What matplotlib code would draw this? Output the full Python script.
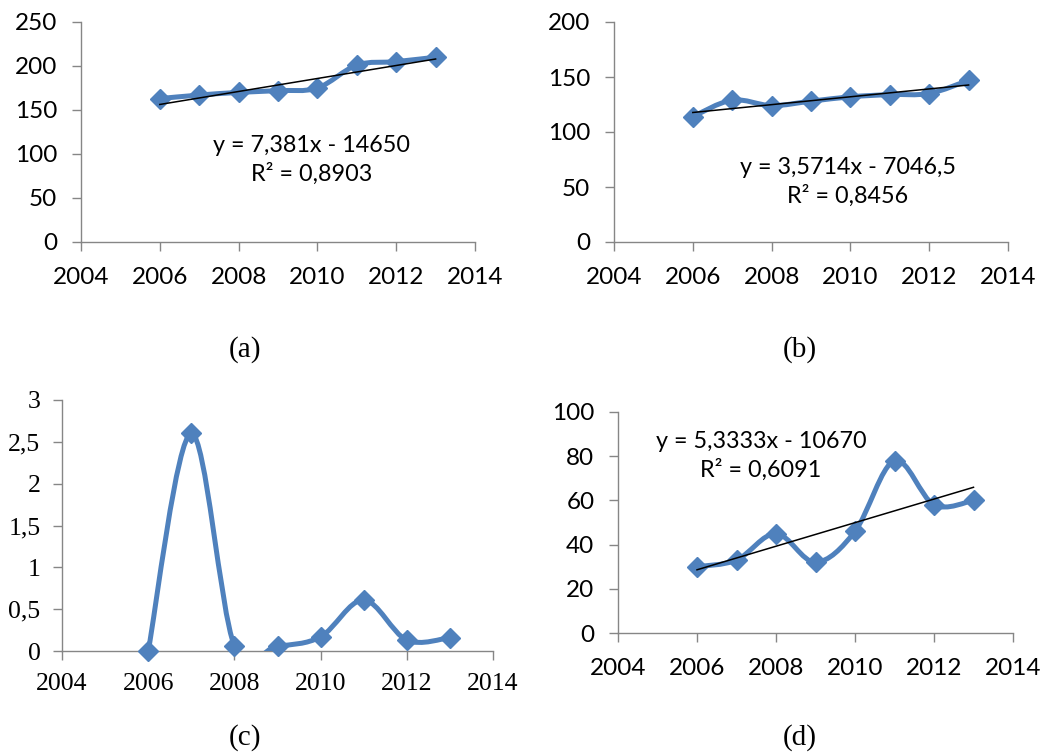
import numpy as np
import matplotlib
matplotlib.use("Agg")
import matplotlib.pyplot as plt
from matplotlib.path import Path
from matplotlib.patches import PathPatch

# data
years = [2006, 2007, 2008, 2009, 2010, 2011, 2012, 2013]
vals_a = [163, 167, 170, 172, 175, 201, 205, 210]
vals_b = [114, 129, 124, 128, 132, 134, 135, 147]
vals_c = [0, 2.6, 0.06, 0.06, 0.17, 0.61, 0.13, 0.16]
vals_d = [30, 33, 45, 32, 46, 78, 58, 60]

# trendline coefficients as printed on the chart
trend_a = (7.381, -14650)
trend_b = (3.5714, -7046.5)
trend_d = (5.3333, -10670)

eq_a = "y = 7,381x - 14650\nR² = 0,8903"
eq_b = "y = 3,5714x - 7046,5\nR² = 0,8456"
eq_d = "y = 5,3333x - 10670\nR² = 0,6091"

BLUE = "#4F81BD"
GRAY = "#868686"


def smooth_path(xs, ys):
    # Excel-style smoothed line: cubic bezier with catmull-rom control points
    pts = list(zip(xs, ys))
    n = len(pts)
    verts = [pts[0]]
    codes = [Path.MOVETO]
    for i in range(n - 1):
        p0 = pts[max(i - 1, 0)]
        p1 = pts[i]
        p2 = pts[i + 1]
        p3 = pts[min(i + 2, n - 1)]
        c1 = (p1[0] + (p2[0] - p0[0]) / 6, p1[1] + (p2[1] - p0[1]) / 6)
        c2 = (p2[0] - (p3[0] - p1[0]) / 6, p2[1] - (p3[1] - p1[1]) / 6)
        verts += [c1, c2, p2]
        codes += [Path.CURVE4] * 3
    return Path(verts, codes)


def style_axes(ax, ylim, yticks, font, size, xpad, ypad, fmt=None):
    ax.set_xlim(2004, 2014)
    ax.set_ylim(*ylim)
    ax.set_xticks(range(2004, 2015, 2))
    ax.set_yticks(yticks)
    if fmt:
        ax.set_yticklabels([fmt(v) for v in yticks])
    for s in ["top", "right"]:
        ax.spines[s].set_visible(False)
    for s in ["left", "bottom"]:
        ax.spines[s].set_color(GRAY)
        ax.spines[s].set_linewidth(1.0)
    ax.tick_params(direction="out", length=6.5, width=1.0, color=GRAY,
                   labelsize=size)
    ax.tick_params(axis="x", pad=xpad)
    ax.tick_params(axis="y", pad=ypad)
    for lab in ax.get_xticklabels() + ax.get_yticklabels():
        lab.set_fontfamily(font)


def draw_series(ax, xs, ys, trend=None):
    ax.add_patch(PathPatch(smooth_path(xs, ys), facecolor="none",
                           edgecolor=BLUE, lw=3.6, capstyle="round",
                           joinstyle="round", zorder=3))
    ax.plot(xs, ys, ls="none", marker="D", ms=10, color=BLUE, zorder=4,
            clip_on=False)
    if trend is not None:
        tx = np.array([xs[0], xs[-1]])
        ax.plot(tx, trend[0] * tx + trend[1], color="black", lw=1.1, zorder=5)


fig = plt.figure(figsize=(10.42, 7.53), dpi=100)

W, H = 1042, 753


def add_ax(left, right, top, bottom):
    return fig.add_axes([left / W, 1 - bottom / H, (right - left) / W,
                         (bottom - top) / H])


sans = "Lato"
serif = "Liberation Serif"
eq_size = 16.8
tick_size = 17.5

ax_a = add_ax(81, 475, 22, 242)
draw_series(ax_a, years, vals_a, trend_a)
style_axes(ax_a, (0, 250), range(0, 251, 50), sans, tick_size, 11.5, 10.5)
ax_a.text(2009.86, 93, eq_a, ha="center", va="center", fontsize=eq_size,
          family=sans, linespacing=1.35)

ax_b = add_ax(614, 1008, 22, 242)
draw_series(ax_b, years, vals_b, trend_b)
style_axes(ax_b, (0, 200), range(0, 201, 50), sans, tick_size, 11.5, 10.5)
ax_b.text(2009.94, 54.5, eq_b, ha="center", va="center", fontsize=eq_size,
          family=sans, linespacing=1.35)

ax_c = add_ax(62, 493, 400, 651)
draw_series(ax_c, years, vals_c)
cticks = [0, 0.5, 1, 1.5, 2, 2.5, 3]
style_axes(ax_c, (0, 3), cticks, serif, 18.5, 9, 9,
           fmt=lambda v: ("%g" % v).replace(".", ","))

ax_d = add_ax(618, 1013, 412, 633)
draw_series(ax_d, years, vals_d, trend_d)
style_axes(ax_d, (0, 100), range(0, 101, 20), sans, tick_size, 11.5, 10.5)
ax_d.text(2007.62, 80, eq_d, ha="center", va="center", fontsize=eq_size,
          family=sans, linespacing=1.35)

for lbl, x, y in [("(a)", 245, 350), ("(b)", 800, 350),
                  ("(c)", 245, 738), ("(d)", 800, 738)]:
    fig.text(x / W, 1 - y / H, lbl, ha="center", va="center",
             fontsize=21, family=serif)

fig.savefig("out.png", dpi=100)
